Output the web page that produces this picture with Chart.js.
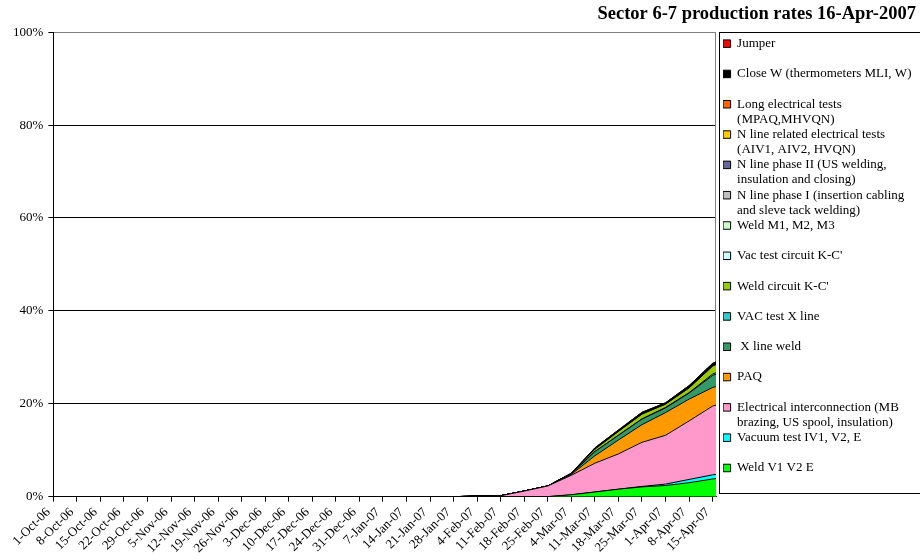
<!DOCTYPE html>
<html>
<head>
<meta charset="utf-8">
<title>Sector 6-7 production rates</title>
<script src="https://cdn.jsdelivr.net/npm/chart.js@4.4.1/dist/chart.umd.min.js"></script>
<style>
  html, body { margin: 0; background: #fff; }
  #wrap { width: 920px; height: 559px; position: relative; }
</style>
</head>
<body>
<div id="wrap"><canvas id="chart"></canvas></div>
<script>
// ---- data -----------------------------------------------------------
const titleText = 'Sector 6-7 production rates 16-Apr-2007';

// weekly axis labels, day offsets from 1-Oct-06
const tickLabels = ['1-Oct-06','8-Oct-06','15-Oct-06','22-Oct-06','29-Oct-06','5-Nov-06',
  '12-Nov-06','19-Nov-06','26-Nov-06','3-Dec-06','10-Dec-06','17-Dec-06','24-Dec-06',
  '31-Dec-06','7-Jan-07','14-Jan-07','21-Jan-07','28-Jan-07','4-Feb-07','11-Feb-07',
  '18-Feb-07','25-Feb-07','4-Mar-07','11-Mar-07','18-Mar-07','25-Mar-07','1-Apr-07',
  '8-Apr-07','15-Apr-07'];
const tickDays = [0,7,14,21,28,35,42,49,56,63,70,77,84,91,98,105,112,119,126,133,
  140,147,154,161,168,175,182,189,196];
// data points: every week plus 16-Apr-07
const pointDays = [0,7,14,21,28,35,42,49,56,63,70,77,84,91,98,105,112,119,126,133,
  140,147,154,161,168,175,182,189,196,197];

// series, bottom of the stack first (values in %)
const weldV1V2E    = [0,0,0,0,0,0,0,0,0,0,0,0,0,0,0,0,0,0, 0,0,0,0,0.4,1.0,1.6,2.1,2.4,3.0,3.8,3.9];
const vacuumIV1    = [0,0,0,0,0,0,0,0,0,0,0,0,0,0,0,0,0,0, 0,0,0,0,0,0,0,0.1,0.3,0.7,0.9,0.9];
const elecInterc   = [0,0,0,0,0,0,0,0,0,0,0,0,0,0,0,0,0,0, 0.1,0.2,1.2,2.3,4.2,6.2,7.6,9.5,10.5,12.6,14.8,14.9];
const paq          = [0,0,0,0,0,0,0,0,0,0,0,0,0,0,0,0,0,0, 0,0,0,0,0.2,1.6,3.0,3.8,4.9,4.7,4.0,4.0];
const xLineWeld    = [0,0,0,0,0,0,0,0,0,0,0,0,0,0,0,0,0,0, 0,0,0,0,0.1,0.9,1.0,1.2,1.0,1.3,2.6,2.7];
const vacTestX     = [0,0,0,0,0,0,0,0,0,0,0,0,0,0,0,0,0,0, 0,0,0,0,0,0,0.05,0.05,0.1,0.1,0.3,0.3];
const weldKC       = [0,0,0,0,0,0,0,0,0,0,0,0,0,0,0,0,0,0, 0,0,0,0,0.05,0.5,0.8,1.0,0.7,1.0,1.7,1.7];
const vacTestKC    = [0,0,0,0,0,0,0,0,0,0,0,0,0,0,0,0,0,0, 0,0,0,0,0,0,0,0,0,0,0,0];
const weldM        = [0,0,0,0,0,0,0,0,0,0,0,0,0,0,0,0,0,0, 0,0,0,0,0,0,0,0,0,0,0,0];
const nLinePhase1  = [0,0,0,0,0,0,0,0,0,0,0,0,0,0,0,0,0,0, 0,0,0,0,0,0,0,0,0,0,0,0];
const nLinePhase2  = [0,0,0,0,0,0,0,0,0,0,0,0,0,0,0,0,0,0, 0,0,0,0,0,0,0,0,0,0,0,0];
const nLineElec    = [0,0,0,0,0,0,0,0,0,0,0,0,0,0,0,0,0,0, 0,0,0,0,0,0,0,0,0,0,0,0];
const longElec     = [0,0,0,0,0,0,0,0,0,0,0,0,0,0,0,0,0,0, 0,0,0,0,0,0,0,0,0,0,0,0];
const closeW       = [0,0,0,0,0,0,0,0,0,0,0,0,0,0,0,0,0,0, 0,0,0,0,0.1,0.3,0.3,0.4,0.3,0.5,0.6,0.6];
const jumper       = [0,0,0,0,0,0,0,0,0,0,0,0,0,0,0,0,0,0, 0,0,0,0,0,0,0,0,0,0,0,0];

const seriesValues = [weldV1V2E, vacuumIV1, elecInterc, paq, xLineWeld, vacTestX, weldKC,
  vacTestKC, weldM, nLinePhase1, nLinePhase2, nLineElec, longElec, closeW, jumper];
const seriesLines = [
  ['Weld V1 V2 E'],
  ['Vacuum test IV1, V2, E'],
  ['Electrical interconnection (MB', 'brazing, US spool, insulation)'],
  ['PAQ'],
  [' X line weld'],
  ['VAC test X line'],
  ["Weld circuit K-C'"],
  ["Vac test circuit K-C'"],
  ['Weld M1, M2, M3'],
  ['N line phase I (insertion cabling', 'and sleve tack welding)'],
  ['N line phase II (US welding,', 'insulation and closing)'],
  ['N line related electrical tests', '(AIV1, AIV2, HVQN)'],
  ['Long electrical tests', '(MPAQ,MHVQN)'],
  ['Close W (thermometers MLI, W)'],
  ['Jumper']
];
const seriesColors = ['#00FF00','#00FFFF','#FF99CC','#FF9900','#339966','#33CCCC','#99CC00',
  '#CCFFFF','#CCFFCC','#C0C0C0','#666699','#FFCC00','#FF6600','#000000','#FF0000'];

// ---- chart ------------------------------------------------------------
Chart.defaults.font.family = "'Liberation Serif', 'DejaVu Serif', serif";
Chart.defaults.color = '#000';

// grey frame on the right of the plot, black box round the legend
const frame = {
  id: 'frame',
  beforeDatasetsDraw(chart) {
    const { ctx, chartArea: a } = chart;
    const x = Math.round(a.right) - 0.5;
    ctx.save();
    ctx.strokeStyle = '#808080'; ctx.lineWidth = 1;
    ctx.beginPath(); ctx.moveTo(x, a.top); ctx.lineTo(x, a.bottom); ctx.stroke();
    ctx.restore();
  },
  afterDraw(chart) {
    const { ctx, chartArea: a } = chart;
    ctx.save();
    ctx.strokeStyle = '#000'; ctx.lineWidth = 1;
    ctx.strokeRect(Math.round(a.right) + 3.5, Math.round(a.top) + 0.5, 300, Math.round(a.bottom - a.top) - 3);
    ctx.restore();
  }
};

new Chart(document.getElementById('chart'), {
  type: 'line',
  data: {
    datasets: seriesLines.map((lines, i) => ({
      label: lines.join(' '),
      data: pointDays.map((d, j) => ({ x: d, y: seriesValues[i][j] })),
      backgroundColor: seriesColors[i],
      borderColor: '#000', borderWidth: 1,
      pointRadius: 0, tension: 0,
      fill: i === 0 ? 'origin' : '-1',
      yAxisID: 'y'
    }))
  },
  options: {
    responsive: true, maintainAspectRatio: false, animation: false,
    layout: { padding: { left: 8, right: 4, bottom: 0 } },
    scales: {
      x: {
        type: 'linear', min: 0, max: 197,
        afterBuildTicks: s => { s.ticks = tickDays.map(v => ({ value: v })); },
        grid: { drawOnChartArea: false, color: '#000', tickLength: 5 },
        border: { color: '#000' },
        ticks: { autoSkip: false, minRotation: 45, maxRotation: 45, padding: 3, labelOffset: -5,
                 font: { size: 13 }, callback: (v, i) => tickLabels[i] }
      },
      y: {
        stacked: true, min: 0, max: 100,
        ticks: { stepSize: 20, padding: 5, font: { size: 13 }, callback: v => v + '%' },
        grid: { color: c => (c.tick && c.tick.value === 100) ? '#808080' : '#000',
                tickColor: '#000', tickLength: 5 },
        border: { color: '#000' }
      },
      // keeps a small gap between the plot and the legend
      gap: {
        type: 'linear', position: 'right', display: true,
        grid: { display: false }, ticks: { display: false }, border: { display: false },
        afterFit: s => { s.width = 7; }
      }
    },
    plugins: {
      title: {
        display: true, text: titleText, align: 'end', color: '#000',
        font: { size: 18.5, weight: 'bold' }, padding: { top: 3, bottom: 7 }
      },
      legend: {
        position: 'right', align: 'center', fullSize: false, reverse: true, maxWidth: 193,
        labels: {
          boxWidth: 7.5, boxHeight: 7.5, padding: 0.1, color: '#000',
          font: { size: 13, lineHeight: 1.162 },
          generateLabels(chart) {
            const items = Chart.defaults.plugins.legend.labels.generateLabels(chart);
            items.forEach(it => {
              const l = seriesLines[it.datasetIndex];
              it.text = l.length > 1 ? l : [l[0], ''];
            });
            return items;
          }
        }
      },
      tooltip: { enabled: false }
    }
  },
  plugins: [frame]
});
</script>
</body>
</html>
